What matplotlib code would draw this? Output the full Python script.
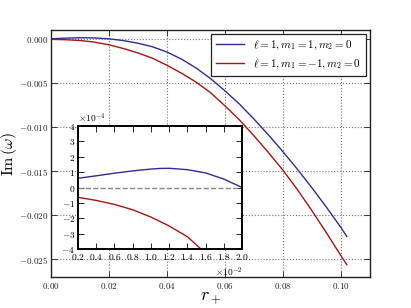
import matplotlib as mpl; mpl.use('agg')
import matplotlib.pyplot as plt

# main panel data
r_main = [0.0, 0.005, 0.01, 0.015, 0.02, 0.025, 0.03, 0.035, 0.04, 0.045, 0.05, 0.055,
          0.06, 0.065, 0.07, 0.075, 0.08, 0.085, 0.09, 0.095, 0.10, 0.102]
im_blue = [0.0, 0.00008, 0.00012, 0.0001, 0.0, -0.0002, -0.0005, -0.0009, -0.0015, -0.0023,
           -0.0033, -0.0045, -0.0059, -0.0074, -0.0091, -0.0109, -0.0128, -0.0148, -0.0169,
           -0.0191, -0.0214, -0.0224]
im_red = [-0.00006, -0.0001, -0.00019, -0.00037, -0.00068, -0.0011, -0.0016, -0.0022, -0.0030,
          -0.0039, -0.0049, -0.0061, -0.0076, -0.0092, -0.0110, -0.0129, -0.0149, -0.0171,
          -0.0195, -0.0220, -0.0246, -0.0256]

# inset data (r in 1e-2, Im in 1e-4)
r_ins = [0.2, 0.4, 0.6, 0.8, 1.0, 1.1, 1.2, 1.4, 1.6, 1.8, 2.0]
ins_blue = [0.6, 0.76, 0.93, 1.08, 1.2, 1.24, 1.25, 1.16, 0.95, 0.55, 0.0]
r_ins_red = [0.2, 0.4, 0.6, 0.8, 1.0, 1.2, 1.4, 1.55]
ins_red = [-0.64, -0.84, -1.1, -1.45, -1.92, -2.5, -3.2, -4.0]

labels = [r'$\ell=1, m_1=1, m_2=0$', r'$\ell=1, m_1=-1, m_2=0$']
c_blue = '#2e2e90'
c_red = '#a51515'

plt.rcParams['font.family'] = 'serif'
plt.rcParams['font.serif'] = ['cmr10']
plt.rcParams['mathtext.fontset'] = 'cm'
plt.rcParams['axes.formatter.use_mathtext'] = True
plt.rcParams['xtick.direction'] = 'in'
plt.rcParams['ytick.direction'] = 'in'
plt.rcParams['xtick.top'] = True
plt.rcParams['ytick.right'] = True

fig = plt.figure(figsize=[4.11, 3.08], dpi=100)
ax = fig.add_axes([51/411, 1-277/308, 319/411, 247/308])
ax.plot(r_main, im_blue, color=c_blue, lw=1.0, label=labels[0])
ax.plot(r_main, im_red, color=c_red, lw=1.0, label=labels[1])
ax.set_xlim(0, 0.11)
ax.set_ylim(-0.027, 0.001)
ax.set_xticks([0.0, 0.02, 0.04, 0.06, 0.08, 0.10])
ax.set_yticks([0.0, -0.005, -0.010, -0.015, -0.020, -0.025])
ax.xaxis.set_major_formatter(mpl.ticker.FormatStrFormatter('$%.2f$'))
ax.yaxis.set_major_formatter(mpl.ticker.FormatStrFormatter('$%.3f$'))
ax.tick_params(labelsize=6.5, length=4, width=0.6, colors='#222222', pad=2)
ax.tick_params(axis='x', pad=3)
ax.grid(True, ls=':', color='#777777', lw=0.8)
ax.set_xlabel(r'$r_+$', fontsize=13)
ax.set_ylabel(r'$\mathrm{Im}\,(\omega)$', fontsize=11.5)
ax.xaxis.set_label_coords(0.5, -0.055)
ax.yaxis.set_label_coords(-0.1, 0.5)
for s in ax.spines.values():
    s.set_linewidth(1.0)
    s.set_color('#222222')
leg = ax.legend(loc='upper right', fontsize=8, fancybox=False, framealpha=1,
                edgecolor='#222222', borderaxespad=0.4, handlelength=2.6)
leg.get_frame().set_linewidth(0.9)

# inset
axi = fig.add_axes([78/411, 1-249/308, 164/411, 123/308])
axi.plot([r * 1e-2 for r in r_ins], [v * 1e-4 for v in ins_blue], color=c_blue, lw=1.0)
axi.plot([r * 1e-2 for r in r_ins_red], [v * 1e-4 for v in ins_red], color=c_red, lw=1.0)
axi.axhline(0, color='#888888', ls='--', lw=1.0)
axi.set_xlim(0.002, 0.02)
axi.set_ylim(-4e-4, 4e-4)
axi.set_xticks([v * 1e-2 for v in [0.2, 0.4, 0.6, 0.8, 1.0, 1.2, 1.4, 1.6, 1.8, 2.0]])
axi.set_yticks([v * 1e-4 for v in range(-4, 5)])
axi.ticklabel_format(style='sci', scilimits=(0, 0))
axi.tick_params(labelsize=6.8, length=4, width=0.6, pad=2)
axi.xaxis.get_offset_text().set_fontsize(6.8)
axi.yaxis.get_offset_text().set_fontsize(6.8)
for s in axi.spines.values():
    s.set_linewidth(1.4)

fig.savefig('out.png', dpi=100, facecolor='white')
